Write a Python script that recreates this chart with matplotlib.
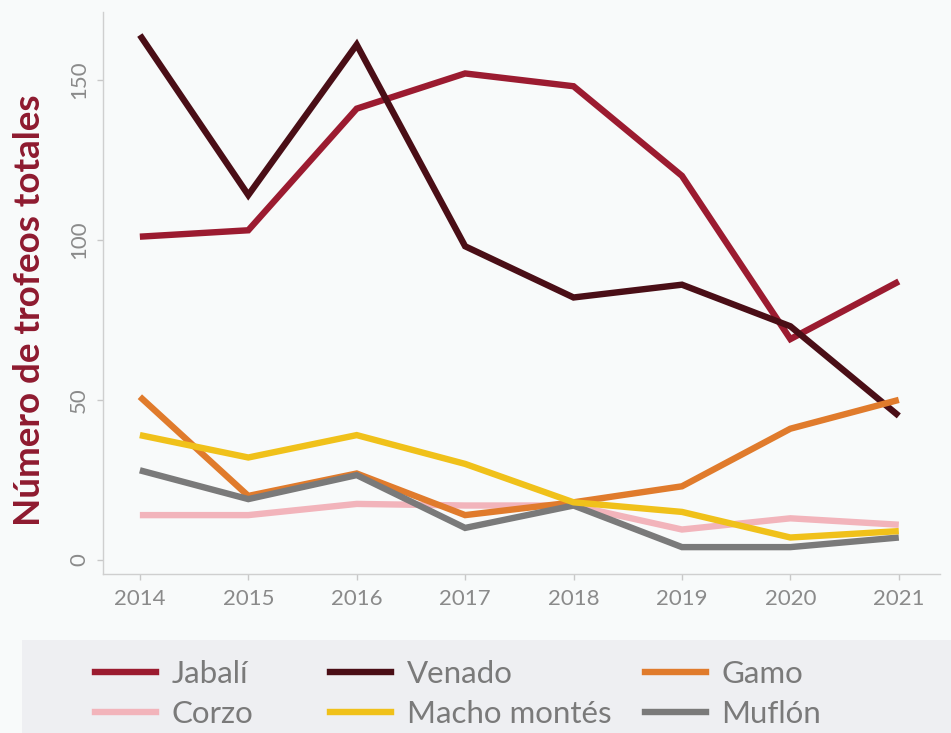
import numpy as np
from matplotlib import pyplot as plt
from matplotlib.patches import Rectangle
from matplotlib.lines import Line2D

years = [2014, 2015, 2016, 2017, 2018, 2019, 2020, 2021]

jabali = [101, 103, 141, 152, 148, 120, 69, 87]
venado = [164, 114, 161, 98, 82, 86, 73, 45]
gamo = [51, 20, 27, 14, 18, 23, 41, 50]
corzo = [14, 14, 17.5, 17, 17, 9.5, 13, 11]
macho = [39, 32, 39, 30, 18, 15, 7, 9]
muflon = [28, 19, 26.5, 10, 17, 4, 4, 7]

names = ['Jabalí', 'Venado', 'Gamo', 'Corzo', 'Macho montés', 'Muflón']
colors = {'Jabalí': '#9b1b30', 'Venado': '#4a0e16', 'Gamo': '#e07b2c',
          'Corzo': '#f2b4bb', 'Macho montés': '#f0c11a', 'Muflón': '#7a7a7a'}
series = {'Jabalí': jabali, 'Venado': venado, 'Gamo': gamo,
          'Corzo': corzo, 'Macho montés': macho, 'Muflón': muflon}
draw_order = ['Jabalí', 'Venado', 'Corzo', 'Gamo', 'Muflón', 'Macho montés']

plt.rcParams['font.family'] = ['Lato', 'DejaVu Sans']
bg = '#f8fafa'
fig = plt.figure(figsize=(9.51, 7.33), dpi=100, facecolor=bg)
ax = fig.add_axes([103/951, 159/733, (940-103)/951, (721-159)/733])
ax.set_facecolor(bg)

for n in draw_order:
    ax.plot(years, series[n], color=colors[n], lw=4.6, solid_joinstyle='miter',
            solid_capstyle='butt', zorder=3)

ax.set_xlim(2013.66, 2021.38)
ax.set_ylim(-4.4, 171.2)
ax.set_xticks(years)
ax.set_yticks([0, 50, 100, 150])
ax.set_yticklabels(['0', '50', '100', '150'], rotation=90, va='center')
ax.tick_params(colors='#c8c8c8', labelcolor='#8a8a8a', labelsize=16, length=4, width=1)
ax.tick_params(axis='x', pad=7)
ax.tick_params(axis='y', pad=6)
for s in ['top', 'right']:
    ax.spines[s].set_visible(False)
for s in ['left', 'bottom']:
    ax.spines[s].set_color('#cfcfcf')
    ax.spines[s].set_linewidth(1)

fig.text(30/951, 1 - 310/733, 'Número de trofeos totales', rotation=90,
         ha='center', va='center', fontsize=26.5, fontweight='bold', color='#8e1a2f')

# legend band
fig.patches.append(Rectangle((22/951, 0), 1, 93/733, transform=fig.transFigure,
                             facecolor='#eeeff2', edgecolor='none', zorder=0))

cols = [['Jabalí', 'Corzo'], ['Venado', 'Macho montés'], ['Gamo', 'Muflón']]
col_x = [95, 330, 645]
for xpos, col in zip(col_x, cols):
    handles = [Line2D([], [], color=colors[n], lw=4.6) for n in col]
    leg = fig.legend(handles, col, loc='upper left',
                     bbox_to_anchor=(xpos/951, 1 - 660/733), frameon=False,
                     fontsize=22.5, labelcolor='#7a7a7a', handlelength=1.95,
                     handletextpad=0.5, labelspacing=0.38, borderpad=0, borderaxespad=0)

fig.savefig('out.png', dpi=100, facecolor=bg)
